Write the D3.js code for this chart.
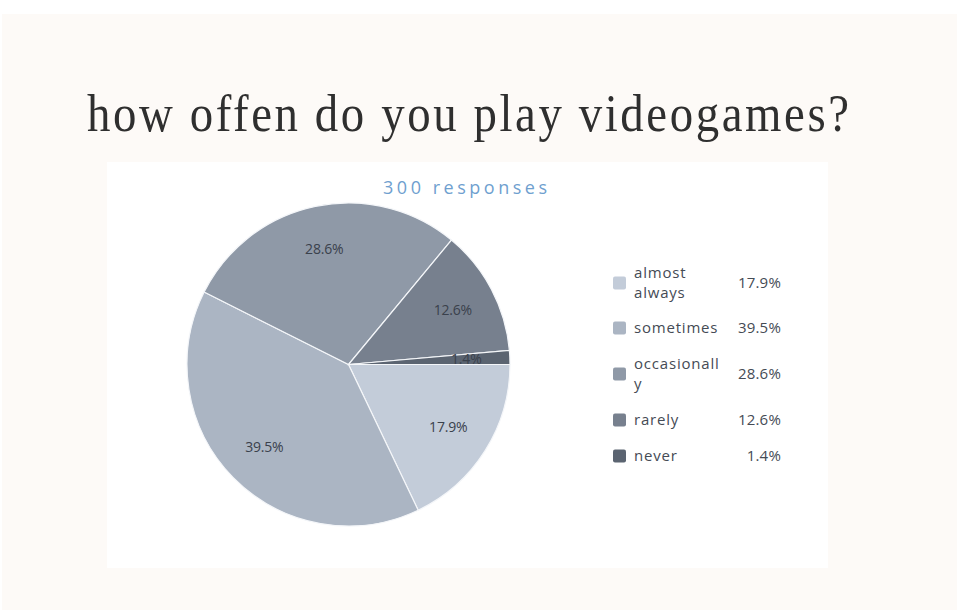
<!DOCTYPE html>
<html>
<head>
<meta charset="utf-8">
<script src="https://cdn.jsdelivr.net/npm/d3@7"></script>
<style>
  html, body { margin: 0; padding: 0; background: #ffffff; }
  svg { display: block; }
</style>
</head>
<body>
<svg id="chart" width="959" height="610"></svg>
<script>
// Survey answers, in the order they are drawn (clockwise from 3 o'clock)
const categories = ["almost always", "sometimes", "occasionally", "rarely", "never"];
const legendLines = [["almost", "always"], ["sometimes"], ["occasionall", "y"], ["rarely"], ["never"]];
const shares = [17.9, 39.5, 28.6, 12.6, 1.4];
const sliceColors = ["#c3ccd9", "#abb5c3", "#8f99a7", "#77808e", "#5b6471"];
const titleText = "how offen do you play videogames?";
const subtitleText = "300 responses";

const svg = d3.select("#chart");

// page backdrop and white card
svg.append("rect").attr("x", 2).attr("y", 14).attr("width", 955).attr("height", 596).attr("fill", "#fdfaf7");
svg.append("rect").attr("x", 107).attr("y", 162).attr("width", 721).attr("height", 406).attr("fill", "#ffffff");

// title: tall, slightly narrow serif with open letter spacing
const titleScaleX = 0.9;
svg.append("g")
  .attr("transform", `translate(87,131) scale(${titleScaleX},1)`)
  .append("text")
  .attr("x", 0).attr("y", 0)
  .attr("textLength", 762 / titleScaleX).attr("lengthAdjust", "spacing")
  .attr("font-family", "Liberation Serif, Times New Roman, serif")
  .attr("font-size", 52)
  .attr("fill", "#2f2f2f")
  .text(titleText);

svg.append("text")
  .attr("x", 383).attr("y", 194)
  .attr("textLength", 164).attr("lengthAdjust", "spacing")
  .attr("font-family", "Open Sans, sans-serif")
  .attr("font-size", 18)
  .attr("fill", "#6f9fcf")
  .text(subtitleText);

// pie
const cx = 348.5, cy = 364.5, R = 161.5;
const pie = d3.pie().sort(null).value(d => d)
  .startAngle(Math.PI / 2).endAngle(Math.PI / 2 + 2 * Math.PI);
const arcs = pie(shares);
const arc = d3.arc().innerRadius(0).outerRadius(R);
const labelArc = d3.arc().innerRadius(R * 0.73).outerRadius(R * 0.73);

const g = svg.append("g").attr("transform", `translate(${cx},${cy})`);
g.selectAll("path.slice").data(arcs).join("path")
  .attr("class", "slice")
  .attr("d", arc)
  .attr("fill", (d, i) => sliceColors[i])
  .attr("stroke", "#f4f6f9")
  .attr("stroke-width", 1.2);

g.selectAll("text.pct").data(arcs).join("text")
  .attr("class", "pct")
  .attr("transform", d => `translate(${labelArc.centroid(d)})`)
  .attr("text-anchor", "middle")
  .attr("dy", "0.35em")
  .attr("font-family", "Open Sans, sans-serif")
  .attr("font-size", 14)
  .attr("letter-spacing", -0.2)
  .attr("fill", "#3a414c")
  .text(d => d.data.toFixed(1) + "%");

// legend
const rowY = [283, 328, 374, 420, 456];
const legend = svg.append("g").attr("font-family", "Open Sans, sans-serif").attr("font-size", 15);
categories.forEach((c, i) => {
  const y = rowY[i];
  legend.append("rect")
    .attr("x", 613).attr("y", y - 6.5).attr("width", 13).attr("height", 13)
    .attr("rx", 2).attr("fill", sliceColors[i]);
  const lines = legendLines[i];
  const t = legend.append("text").attr("x", 634).attr("fill", "#454b55").attr("letter-spacing", 0.8);
  lines.forEach((ln, j) => {
    t.append("tspan").attr("x", 634)
      .attr("y", y + 5 - (lines.length - 1) * 10 + j * 20)
      .text(ln);
  });
  legend.append("text")
    .attr("x", 781).attr("y", y + 5)
    .attr("text-anchor", "end")
    .attr("fill", "#454b55")
    .attr("letter-spacing", 0.2)
    .text(shares[i].toFixed(1) + "%");
});
</script>
</body>
</html>
